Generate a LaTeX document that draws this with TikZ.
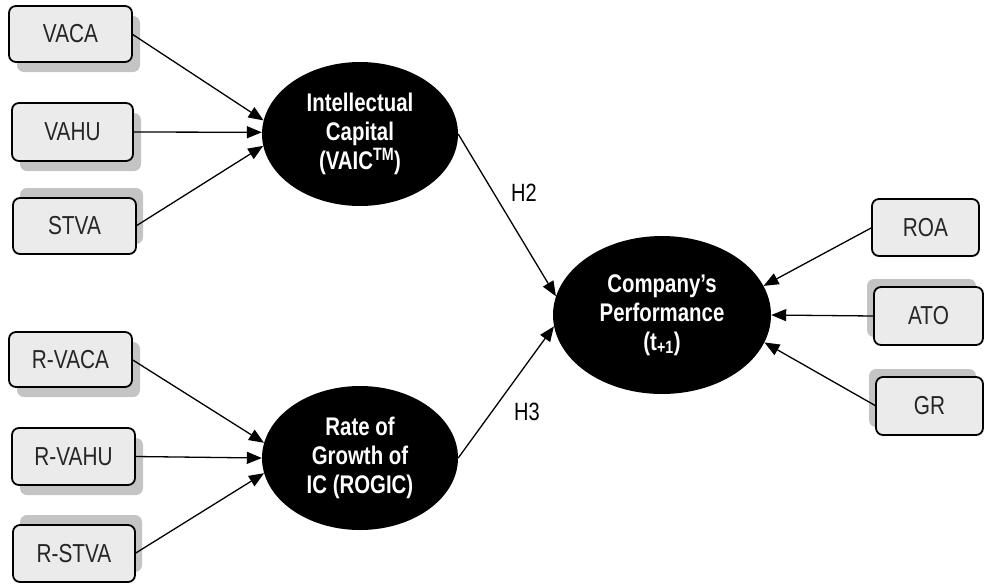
\documentclass[tikz,border=0pt]{standalone}
\usepackage{fontspec}
\setmainfont{Liberation Sans}[FakeStretch=0.8]
\usetikzlibrary{arrows.meta,shapes.geometric,shadows}
\definecolor{boxfill}{HTML}{EBEBEB}
\definecolor{shadowgray}{HTML}{C4C4C4}
\begin{document}
\begin{tikzpicture}[x=1pt,y=-1pt,
  ind/.style={draw=black, line width=1.8pt, rounded corners=7pt, fill=boxfill,
    inner sep=0pt, outer sep=0pt, font=\fontsize{26}{30}\selectfont, text=black!85},
  shbr/.style={general shadow={shadow xshift=8pt, shadow yshift=-10pt, fill=shadowgray, draw=none}},
  shur/.style={general shadow={shadow xshift=7pt, shadow yshift=10pt, fill=shadowgray, draw=none}},
  shul/.style={general shadow={shadow xshift=-7pt, shadow yshift=8pt, fill=shadowgray, draw=none}},
  lat/.style={ellipse, fill=black, text=white, inner sep=0pt, align=center,
    font=\fontsize{25.5}{29}\selectfont\bfseries},
  arr/.style={line width=1.3pt, -{Triangle[length=15pt,width=12pt]}},
  hlab/.style={font=\fontsize{25}{29}\selectfont, text=black}]
\useasboundingbox (0,0) rectangle (984,584);
% indicator boxes left
\node[ind, shbr, minimum width=123pt, minimum height=56pt] (vaca) at (70.5,34) {VACA};
\node[ind, shbr, minimum width=121pt, minimum height=58pt] (vahu) at (72.5,132) {VAHU};
\node[ind, shur, minimum width=123pt, minimum height=56pt] (stva) at (74.5,226) {STVA};
\node[ind, shbr, minimum width=123pt, minimum height=55pt] (rvaca) at (70.5,359.5) {R-VACA};
\node[ind, shbr, minimum width=123pt, minimum height=57pt] (rvahu) at (73.5,456.5) {R-VAHU};
\node[ind, shur, minimum width=122pt, minimum height=57pt] (rstva) at (74,553.5) {R-STVA};
% indicator boxes right
\node[ind, minimum width=107pt, minimum height=57pt] (roa) at (925.5,227.5) {ROA};
\node[ind, shul, minimum width=109pt, minimum height=58pt] (ato) at (928.5,316) {ATO};
\node[ind, shul, minimum width=107pt, minimum height=58pt] (gr) at (929.5,406) {GR};
% latent variables
\node[lat, minimum width=196pt, minimum height=144pt] (ic) at (360,134)
  {Intellectual\\Capital\\(VAIC\textsuperscript{TM})};
\node[lat, minimum width=196pt, minimum height=144pt] (rogic) at (360,458)
  {Rate of\\Growth of\\IC (ROGIC)};
\node[lat, minimum width=218pt, minimum height=158pt] (cp) at (662,315)
  {Company’s\\Performance\\(t\textsubscript{+1})};
% arrows
\draw[arr] (vaca.east) -- (ic.172);
\draw[arr] (vahu.east) -- (ic.179);
\draw[arr] (stva.east) -- (ic.187);
\draw[arr] (rvaca.east) -- (rogic.171);
\draw[arr] (rvahu.east) -- (rogic.180);
\draw[arr] (rstva.east) -- (rogic.189);
\draw[arr] (ic.east) -- (cp.170);
\draw[arr] (rogic.east) -- (cp.186);
\draw[arr] (roa.west) -- (cp.16);
\draw[arr] (ato.west) -- (cp.0);
\draw[arr] (gr.west) -- (cp.-15);
% labels
\node[hlab] (h2) at (524,193) {H2};
\node[hlab] (h3) at (527,412) {H3};
\end{tikzpicture}
\end{document}
